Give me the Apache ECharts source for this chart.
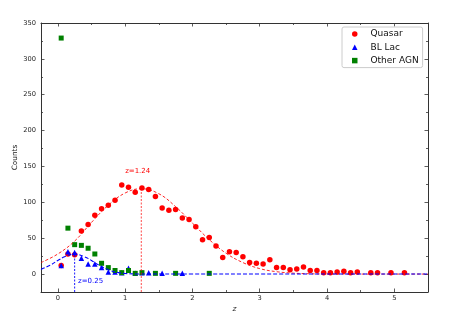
<!DOCTYPE html>
<html>
<head>
<meta charset="utf-8">
<script src="https://cdn.jsdelivr.net/npm/echarts@6/dist/echarts.min.js"></script>
<style>
  html, body { margin: 0; padding: 0; background: #fff; }
  #main { width: 455px; height: 325px; }
</style>
</head>
<body>
<div id="main"></div>
<script>
// bin centres and counts
var quasarZ = [0.05, 0.15, 0.25, 0.35, 0.45, 0.55, 0.65, 0.75, 0.85, 0.95, 1.05, 1.15, 1.25, 1.35, 1.45, 1.55, 1.65, 1.75, 1.85, 1.95, 2.05, 2.15, 2.25, 2.35, 2.45, 2.55, 2.65, 2.75, 2.85, 2.95, 3.05, 3.15, 3.25, 3.35, 3.45, 3.55, 3.65, 3.75, 3.85, 3.95, 4.05, 4.15, 4.25, 4.35, 4.45, 4.65, 4.75, 4.95, 5.15];
var quasarN = [12, 28, 27, 60, 69, 82, 91, 96, 103, 124, 121, 114, 120, 118, 108, 92, 89, 90, 78, 76, 66, 48, 51, 39, 23, 31, 30, 24, 16, 15, 14, 20, 9, 9, 6, 7, 10, 5, 5, 2, 2, 3, 4, 2, 3, 2, 2, 2, 2];

var bllacZ = [0.05, 0.15, 0.25, 0.35, 0.45, 0.55, 0.65, 0.75, 0.85, 0.95, 1.05, 1.15, 1.25, 1.35, 1.55, 1.85];
var bllacN = [12, 31, 30, 22, 14, 14, 9, 3, 3, 2, 8, 1, 2, 2, 1, 1];

var otherZ = [0.05, 0.15, 0.25, 0.35, 0.45, 0.55, 0.65, 0.75, 0.85, 0.95, 1.05, 1.15, 1.25, 1.45, 1.75, 2.25];
var otherN = [329, 64, 41, 40, 36, 28, 15, 9, 5, 2, 5, 1, 2, 1, 1, 1];

// fitted curves
var quasarFitZ = [-0.25, 0, 0.25, 0.5, 0.75, 1.0, 1.24, 1.5, 1.75, 2.0, 2.25, 2.5, 2.75, 3.0, 3.25, 3.5, 3.75, 4.0, 4.5, 5.5];
var quasarFitN = [16, 28, 46, 72, 96, 113, 119, 112, 94, 71, 48, 29, 16, 7.6, 3.3, 1.3, 0.4, 0.1, 0, 0];
var bllacFitZ = [-0.25, -0.1, 0, 0.1, 0.25, 0.4, 0.5, 0.6, 0.75, 0.9, 1.0, 1.2, 1.5, 2, 3, 4, 5.5];
var bllacFitN = [6.5, 13, 19, 24, 28, 24, 19, 13, 6, 2, 0.8, 0.1, 0, 0, 0, 0, 0];

// peak markers
var quasarPeak = 1.24, quasarPeakN = 119;
var bllacPeak = 0.25, bllacPeakN = 28;

// axis ticks
var xMajor = [0, 1, 2, 3, 4, 5];
var xMinor = [0.5, 1.5, 2.5, 3.5, 4.5];
var yMajor = [0, 50, 100, 150, 200, 250, 300, 350];
var yMinor = [25, 75, 125, 175, 225, 275, 325];
var xMin = -0.25, xMax = 5.5, yMin = -25, yMax = 350;

function pairs(xs, ys) {
  return xs.map(function (x, i) { return [x, ys[i]]; });
}

var font = 'DejaVu Sans';
var frame = '#333';

function xAx(pos, ticks, len, withLine, withLabel) {
  return {
    type: 'value', position: pos, min: xMin, max: xMax,
    axisLine: { show: withLine, onZero: false, lineStyle: { color: frame, width: 1 } },
    axisTick: { show: true, inside: true, length: len, customValues: ticks, lineStyle: { color: frame, width: 0.8 } },
    axisLabel: withLabel ? { show: true, customValues: ticks, fontSize: 6.7, color: '#222', margin: 3, fontFamily: font } : { show: false },
    splitLine: { show: false },
    name: withLabel ? 'z' : '',
    nameLocation: 'middle', nameGap: 13, nameMoveOverlap: false,
    nameTextStyle: { fontSize: 7.5, fontStyle: 'italic', color: '#222', fontFamily: font }
  };
}

function yAx(pos, ticks, len, withLine, withLabel) {
  return {
    type: 'value', position: pos, min: yMin, max: yMax,
    axisLine: { show: withLine, onZero: false, lineStyle: { color: frame, width: 1 } },
    axisTick: { show: true, inside: true, length: len, customValues: ticks, lineStyle: { color: frame, width: 0.8 } },
    axisLabel: withLabel ? { show: true, customValues: ticks, fontSize: 6.7, color: '#222', margin: 5, fontFamily: font } : { show: false },
    splitLine: { show: false },
    name: withLabel ? 'Counts' : '',
    nameLocation: 'middle', nameGap: 22, nameMoveOverlap: false,
    nameTextStyle: { fontSize: 7.3, color: '#222', fontFamily: font }
  };
}

var chart = echarts.init(document.getElementById('main'));

chart.setOption({
  animation: false,
  textStyle: { fontFamily: font },
  grid: { left: 41, right: 27, top: 23, bottom: 33 },
  legend: {
    data: [
      { name: 'Quasar', icon: 'circle' },
      { name: 'BL Lac', icon: 'triangle' },
      { name: 'Other AGN', icon: 'rect' }
    ],
    orient: 'vertical',
    left: 342, top: 27,
    itemWidth: 5.5, itemHeight: 5.5, itemGap: 3.3,
    padding: [2, 4, 2, 10],
    borderColor: '#ccc', borderWidth: 1, borderRadius: 2,
    itemStyle: { opacity: 1 },
    textStyle: { fontSize: 9, color: '#111', lineHeight: 10, padding: [0, 0, 0, 8], fontFamily: font }
  },
  xAxis: [
    xAx('bottom', xMajor, 3.5, true, true),
    xAx('bottom', xMinor, 2, false, false),
    xAx('top', xMajor, 3.5, true, false),
    xAx('top', xMinor, 2, false, false)
  ],
  yAxis: [
    yAx('left', yMajor, 3.5, true, true),
    yAx('left', yMinor, 2, false, false),
    yAx('right', yMajor, 3.5, true, false),
    yAx('right', yMinor, 2, false, false)
  ],
  series: [
    {
      name: 'Quasar', type: 'scatter', symbol: 'circle', symbolSize: 5.5,
      itemStyle: { color: '#ff0000', opacity: 1 },
      data: pairs(quasarZ, quasarN)
    },
    {
      name: 'BL Lac', type: 'scatter', symbol: 'triangle', symbolSize: 5.5,
      itemStyle: { color: '#0000ff', opacity: 1 },
      data: pairs(bllacZ, bllacN)
    },
    {
      name: 'Other AGN', type: 'scatter', symbol: 'rect', symbolSize: 5,
      itemStyle: { color: '#008000', opacity: 1 },
      data: pairs(otherZ, otherN)
    },
    {
      name: 'Quasar fit', type: 'line', smooth: 0.4, symbol: 'none',
      lineStyle: { color: 'rgba(255,0,0,0.85)', width: 1, type: [3, 2] },
      data: pairs(quasarFitZ, quasarFitN)
    },
    {
      name: 'BL Lac fit', type: 'line', smooth: 0.4, symbol: 'none',
      lineStyle: { color: '#0000ff', width: 1.1, type: [4, 2] },
      data: pairs(bllacFitZ, bllacFitN)
    },
    {
      name: 'Quasar peak', type: 'line', symbol: 'none',
      lineStyle: { color: 'rgba(255,0,0,0.8)', width: 0.9, type: [2, 1.5] },
      data: [[quasarPeak, yMin], [quasarPeak, quasarPeakN]],
      markPoint: {
        symbol: 'circle', symbolSize: 0,
        label: { show: true, position: 'right', distance: 0, formatter: 'z=1.24', color: '#ff0000', fontSize: 7, fontFamily: font },
        data: [{ coord: [1.0, 143] }]
      }
    },
    {
      name: 'BL Lac peak', type: 'line', symbol: 'none',
      lineStyle: { color: '#0000ff', width: 0.9, type: [2, 1.5] },
      data: [[bllacPeak, yMin], [bllacPeak, bllacPeakN]],
      markPoint: {
        symbol: 'circle', symbolSize: 0,
        label: { show: true, position: 'right', distance: 0, formatter: 'z=0.25', color: '#0000ff', fontSize: 7, fontFamily: font },
        data: [{ coord: [0.3, -10.5] }]
      }
    }
  ]
});
</script>
</body>
</html>
